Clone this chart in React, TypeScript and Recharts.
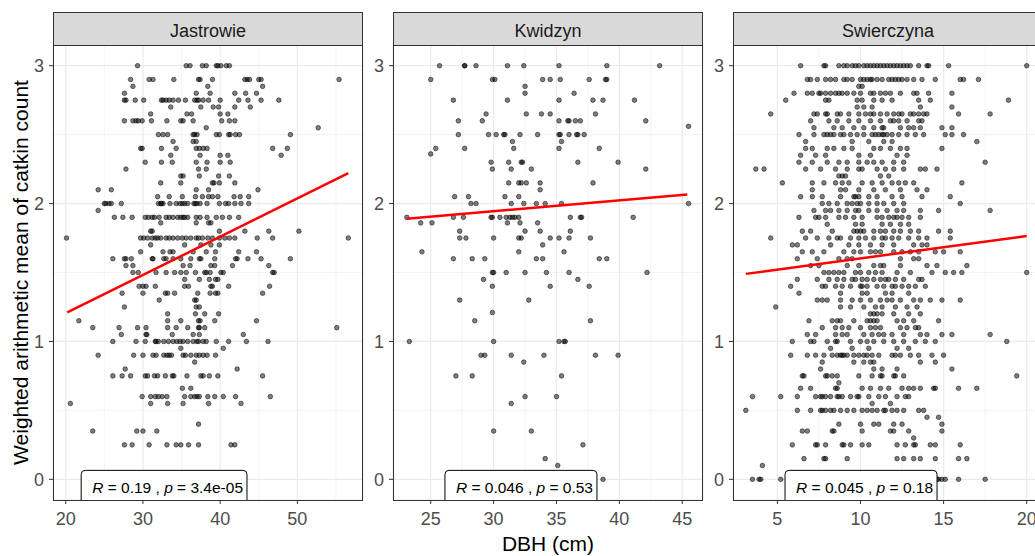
import React from "react";
import { ScatterChart, Scatter, XAxis, YAxis, CartesianGrid, ReferenceDot } from "recharts";

type Row = [number, number[]];

// each row: [weighted mean, DBH values of the trees at that level]
const jastrowieRows: Row[] = [
  [3.0, [29.3, 35.6, 36.1, 37.7, 38.2, 39.5, 39.7, 40.1, 40.8, 41.2]],
  [2.9, [28.4, 30.8, 31.3, 34.0, 37.2, 37.4, 39.0, 43.2, 43.5, 43.8, 45.0, 45.3, 55.4]],
  [2.85, [28.7, 38.4, 45.5]],
  [2.8, [27.6, 36.9, 38.7, 41.9, 43.3, 44.7]],
  [2.75, [27.6, 27.8, 29.0, 30.1, 32.4, 32.6, 33.0, 33.4, 33.9, 34.6, 35.5, 36.7, 37.0, 37.2, 37.8, 38.5, 40.0, 42.4, 43.6, 45.3, 47.6]],
  [2.7, [33.6, 37.5, 39.1, 39.8, 41.9, 43.9]],
  [2.65, [31.0, 35.7, 36.3, 40.0, 41.0]],
  [2.6, [27.6, 28.7, 29.1, 29.4, 29.9, 31.1, 33.1, 34.9, 35.2, 36.5, 40.2, 41.2, 41.9]],
  [2.55, [38.2, 52.7]],
  [2.5, [32.0, 32.6, 33.2, 36.5, 36.7, 37.0, 39.5, 39.9, 41.1, 41.3, 42.0, 42.5, 49.1]],
  [2.45, [33.9, 36.5, 36.9]],
  [2.4, [29.7, 29.9, 32.4, 34.3, 36.9, 37.3, 37.8, 38.3, 46.8, 48.7]],
  [2.35, [33.6, 37.4, 40.0, 41.0, 47.9]],
  [2.3, [30.3, 32.4, 33.8, 36.9, 38.3, 40.0, 41.3]],
  [2.25, [27.8, 37.2, 38.2]],
  [2.2, [34.9, 35.2, 37.3, 39.8, 41.2]],
  [2.15, [32.3, 34.9, 39.0, 39.2, 39.9, 41.9]],
  [2.1, [24.2, 25.9, 36.9, 38.5, 44.9]],
  [2.05, [31.9, 33.4, 35.1, 36.8, 37.7, 38.5, 39.0, 39.7, 41.8, 42.6, 43.7]],
  [2.0, [25.0, 25.2, 25.6, 25.9, 27.2, 32.0, 32.3, 32.4, 32.6, 33.5, 34.3, 34.8, 35.1, 35.4, 35.8, 36.6, 36.8, 37.0, 37.4, 38.3, 39.9, 40.7, 41.1, 41.9, 42.7, 43.7]],
  [1.95, [24.2]],
  [1.9, [26.3, 27.4, 28.6, 30.3, 30.7, 31.2, 31.5, 32.1, 33.0, 33.4, 33.9, 34.5, 34.9, 35.2, 35.4, 35.8, 36.9, 37.4, 38.3, 39.5, 40.3, 41.2, 42.4]],
  [1.86, [32.3, 36.9, 38.5, 38.8]],
  [1.8, [31.0, 31.2, 39.9, 43.2, 46.3, 50.2]],
  [1.75, [20.1, 29.7, 30.1, 30.6, 31.2, 31.6, 31.9, 32.3, 33.0, 33.4, 33.9, 34.5, 35.1, 35.6, 36.2, 36.9, 37.2, 37.7, 38.4, 39.0, 39.9, 40.6, 41.2, 41.9, 44.8, 46.8, 56.6]],
  [1.7, [31.0, 35.4, 37.5, 38.8, 39.9]],
  [1.65, [29.7, 32.6, 33.5, 33.9, 36.5, 38.2, 39.4, 42.4, 44.7]],
  [1.6, [26.1, 27.6, 27.8, 28.5, 31.2, 31.3, 32.7, 33.0, 33.9, 34.9, 36.2, 37.3, 37.5, 39.3, 42.0, 42.2, 43.6, 45.3, 49.1]],
  [1.55, [27.8, 28.7, 35.2, 36.1, 38.8, 39.3, 41.6, 46.3]],
  [1.5, [28.7, 29.4, 31.7, 33.0, 34.1, 34.9, 35.6, 36.8, 38.0, 38.2, 38.7, 40.1, 40.4, 46.8, 47.0]],
  [1.45, [35.4, 37.3, 38.6, 39.4, 39.7]],
  [1.4, [29.5, 30.0, 30.4, 31.6, 35.4, 35.9, 38.8, 39.0, 41.1, 46.4]],
  [1.35, [27.3, 30.0, 32.9, 33.2, 34.1, 37.1, 38.7, 39.4, 39.7, 45.5]],
  [1.3, [32.1, 36.7, 36.9]],
  [1.25, [27.6, 36.9, 37.3]],
  [1.2, [33.2, 36.8, 38.0, 39.8]],
  [1.15, [21.7, 33.2, 34.9, 37.2, 37.4, 39.3, 44.7]],
  [1.1, [23.5, 26.9, 29.3, 30.4, 33.2, 34.3, 35.8, 37.2, 37.3, 38.0, 55.1]],
  [1.05, [27.2, 30.4, 30.5, 33.8, 36.5, 37.3, 43.0]],
  [1.0, [26.1, 29.1, 30.3, 31.6, 31.7, 32.0, 32.7, 33.3, 33.9, 34.4, 34.8, 35.2, 35.8, 36.5, 37.0, 37.2, 37.8, 38.2, 39.5, 41.1, 43.4, 46.2]],
  [0.95, [34.9, 40.4]],
  [0.9, [24.2, 28.8, 30.0, 31.3, 31.7, 32.7, 33.1, 33.4, 33.7, 35.2, 35.5, 36.2, 36.9, 37.3, 37.8, 38.3, 39.4]],
  [0.85, [36.7]],
  [0.8, [27.7, 42.2]],
  [0.75, [26.1, 27.3, 28.4, 30.3, 30.6, 31.5, 31.9, 32.9, 33.8, 34.0, 35.7, 37.5, 37.8, 38.6, 39.7, 45.5]],
  [0.66, [35.1, 36.2]],
  [0.6, [29.9, 31.0, 31.6, 32.0, 32.5, 33.1, 35.4, 36.2, 36.7, 37.0, 37.3, 38.4, 39.3, 40.4, 42.0, 46.5]],
  [0.55, [20.6, 31.0, 33.2, 35.2, 38.5, 42.7]],
  [0.4, [37.2]],
  [0.35, [23.5, 29.2, 30.0, 31.8]],
  [0.25, [27.6, 28.6, 30.8, 33.1, 34.3, 34.9, 35.9, 37.2, 41.4, 41.9]],
];

const kwidzynRows: Row[] = [
  [3.0, [25.7, 27.7, 27.7, 28.6, 31.1, 32.4, 35.2, 39.0, 43.2]],
  [2.9, [25.0, 29.9, 30.1, 33.9, 34.5, 35.3, 37.6, 38.9, 39.0]],
  [2.85, [32.5]],
  [2.8, [32.5, 36.4]],
  [2.75, [26.8, 31.1, 35.2, 37.9, 38.7, 41.2]],
  [2.65, [29.4, 32.6, 33.8, 34.5, 38.1]],
  [2.6, [27.2, 29.1, 35.2, 35.9, 36.0, 36.5, 36.9, 42.1]],
  [2.56, [45.5]],
  [2.5, [27.2, 29.6, 30.2, 30.8, 30.9, 32.1, 33.5, 35.2, 35.3, 36.0, 36.6, 36.7, 37.2]],
  [2.45, [31.5, 35.4]],
  [2.4, [25.4, 27.7, 31.6, 35.2, 38.4]],
  [2.36, [25.0]],
  [2.3, [29.8, 31.2, 32.2, 32.3, 36.7, 39.9]],
  [2.25, [29.9, 31.4, 33.0, 42.1]],
  [2.15, [31.2, 32.0, 32.2, 32.6, 33.7, 37.9]],
  [2.1, [33.7]],
  [2.05, [26.9, 28.0, 30.9, 32.0]],
  [2.0, [28.2, 28.6, 31.4, 32.4, 33.4, 34.1, 35.4, 45.5]],
  [1.9, [23.1, 26.8, 27.6, 29.8, 29.9, 30.5, 31.0, 31.3, 31.5, 31.7, 32.0, 36.1, 36.9, 37.0, 41.1]],
  [1.86, [24.2, 25.1, 31.1, 32.1, 33.5]],
  [1.8, [27.3, 32.5, 33.7, 36.1]],
  [1.75, [27.3, 27.8, 30.0, 32.0, 32.2, 34.5, 35.2, 36.0, 37.7]],
  [1.7, [33.9]],
  [1.65, [24.3, 32.0, 35.6]],
  [1.6, [26.8, 28.3, 29.3, 33.4, 33.9, 38.4, 39.0]],
  [1.5, [29.9, 30.0, 31.0, 32.5, 34.2, 36.0, 42.2]],
  [1.45, [29.2, 36.7]],
  [1.4, [29.9, 34.5, 37.6]],
  [1.3, [27.3, 32.8]],
  [1.21, [29.9]],
  [1.15, [28.5, 37.7]],
  [1.0, [23.3, 30.0, 35.2, 35.6, 35.7]],
  [0.9, [29.0, 29.3, 31.4, 34.0, 38.1, 39.9]],
  [0.85, [32.4]],
  [0.75, [27.0, 28.3, 35.4]],
  [0.6, [32.5, 35.0]],
  [0.55, [31.4]],
  [0.35, [30.0, 33.0]],
  [0.25, [37.1]],
  [0.15, [34.1]],
  [0.1, [35.1]],
  [0.0, [38.7]],
];

const swierczynaRows: Row[] = [
  [3.0, [6.4, 7.8, 7.9, 8.7, 9.0, 9.2, 9.5, 9.7, 9.9, 10.2, 10.4, 10.6, 10.8, 11.0, 11.2, 11.4, 11.6, 11.8, 12.0, 12.2, 12.4, 12.6, 12.8, 13.0, 13.5, 14.0, 14.1, 15.3, 20.0]],
  [2.9, [6.8, 7.0, 7.4, 7.9, 8.2, 8.5, 9.0, 9.2, 9.5, 10.0, 10.2, 10.4, 10.6, 10.7, 11.0, 11.3, 11.7, 11.9, 12.1, 12.3, 12.5, 12.8, 13.2, 13.7, 14.5, 16.0, 16.2, 17.1]],
  [2.85, [9.9, 10.1]],
  [2.8, [6.0, 6.8, 7.1, 7.5, 7.6, 7.9, 8.2, 8.5, 8.7, 8.9, 9.2, 9.6, 10.0, 10.6, 10.8, 11.2, 11.5, 11.8, 12.4, 13.2, 13.4, 14.1, 15.5]],
  [2.75, [5.5, 7.9, 8.1, 9.8, 10.1, 10.8, 11.3, 11.9, 13.5, 14.2, 18.9]],
  [2.7, [9.8, 10.2, 10.7, 13.6, 15.5]],
  [2.65, [4.6, 7.2, 7.4, 7.9, 8.0, 8.6, 8.8, 9.3, 9.9, 10.3, 10.6, 10.8, 11.2, 11.6, 12.0, 12.3, 12.5, 13.0, 13.2, 13.5, 13.8, 14.0, 15.9, 17.8]],
  [2.6, [7.0, 8.1, 8.6, 9.3, 9.9, 10.6, 11.2, 11.8, 12.0, 12.3, 12.8, 13.5, 13.7]],
  [2.55, [7.2, 8.4, 8.9, 9.6, 10.2, 10.8, 11.3, 11.4, 12.4, 12.9, 13.2, 13.6, 14.9, 15.5]],
  [2.5, [6.3, 7.2, 7.8, 8.0, 8.2, 8.4, 8.8, 9.0, 9.4, 9.8, 10.2, 10.7, 10.9, 11.1, 11.3, 11.4, 11.6, 11.9, 12.3, 12.8, 13.3, 13.8, 15.1, 15.5, 16.2]],
  [2.45, [6.7, 9.5, 10.5, 11.4, 11.9, 17.0]],
  [2.4, [6.7, 7.1, 8.0, 8.4, 9.0, 9.5, 10.8, 11.2, 11.8, 12.4, 12.8, 14.9]],
  [2.35, [6.4, 7.3, 7.9, 9.9, 10.6, 12.2, 12.8]],
  [2.3, [6.3, 7.1, 8.0, 8.7, 9.2, 9.9, 10.4, 10.8, 11.3, 12.0, 12.6, 17.5]],
  [2.25, [3.7, 4.2, 6.7, 7.6, 8.5, 9.2, 9.9, 10.1, 11.0, 11.5, 12.0, 12.6, 13.6, 13.9, 14.6]],
  [2.2, [8.7, 8.9, 9.1, 11.2, 11.7]],
  [2.15, [5.3, 7.1, 7.8, 8.5, 8.9, 9.3, 10.1, 10.7, 11.3, 11.9, 12.3, 12.7, 13.2, 16.1]],
  [2.1, [7.1, 8.8, 9.1, 9.9, 10.8, 11.5, 12.4, 13.4, 14.0]],
  [2.05, [6.4, 7.1, 7.7, 8.8, 9.6, 9.7, 9.9, 10.5, 11.0, 11.9, 12.5, 13.7, 15.4]],
  [2.0, [7.7, 8.1, 8.6, 9.2, 9.5, 9.8, 10.0, 10.5, 11.0, 11.4, 12.0, 12.6, 16.0]],
  [1.95, [7.2, 7.9, 8.2, 8.7, 9.2, 9.7, 9.9, 10.5, 11.0, 11.6, 12.2, 12.6, 13.6, 14.7, 17.8]],
  [1.9, [6.3, 7.3, 7.5, 7.9, 8.7, 9.1, 9.6, 10.1, 11.0, 11.3, 11.7, 12.0, 12.2, 12.5, 12.9, 13.6]],
  [1.85, [8.0, 9.7, 10.1, 11.3, 11.8, 12.4, 12.9]],
  [1.8, [6.5, 7.0, 8.3, 9.6, 9.8, 10.0, 10.2, 10.8, 11.2, 11.5, 12.0, 12.4, 13.0, 13.5, 14.7, 15.4]],
  [1.75, [4.6, 6.7, 7.4, 8.1, 8.6, 8.8, 9.4, 9.9, 10.3, 10.8, 11.3, 11.5, 11.9, 12.3, 12.9, 13.5, 14.0, 15.4]],
  [1.7, [5.9, 6.2, 8.2, 9.3, 9.9, 10.6, 11.3, 12.0, 13.2, 13.7, 14.0]],
  [1.65, [6.5, 7.1, 7.8, 9.0, 9.6, 10.0, 10.6, 10.9, 11.2, 12.0, 12.5, 13.0, 13.5, 14.5, 15.0, 16.0]],
  [1.6, [6.2, 7.4, 8.7, 9.2, 9.5, 12.4, 13.2, 13.5]],
  [1.55, [7.0, 7.5, 9.2, 9.9, 10.8, 11.2, 11.4, 12.4, 14.0, 14.6, 16.4]],
  [1.5, [7.8, 8.1, 8.4, 8.7, 9.0, 9.7, 10.0, 10.5, 10.9, 11.3, 12.2, 13.0, 14.3, 15.1, 15.6, 16.1, 20.0]],
  [1.45, [6.2, 7.4, 8.1, 8.6, 9.0, 9.5, 9.7, 10.1, 10.4, 10.8, 11.2, 11.5, 11.7, 12.1, 12.6, 13.5, 13.7]],
  [1.4, [5.8, 7.7, 7.9, 8.5, 8.9, 9.4, 10.0, 10.1, 10.4, 11.0, 11.4, 11.9, 12.1, 12.5, 12.9, 13.3, 13.9]],
  [1.35, [6.3, 8.8, 10.1, 10.4, 11.5, 11.9, 12.9]],
  [1.3, [7.4, 7.7, 8.0, 8.8, 9.5, 10.0, 10.6, 11.2, 11.6, 11.9, 12.4, 13.2, 13.6, 14.2, 14.9, 16.0]],
  [1.25, [4.9, 8.8, 9.4, 10.2, 10.9, 11.3, 12.1, 12.8, 13.4]],
  [1.2, [10.6, 10.8, 11.0, 11.3, 12.0, 12.9, 13.6]],
  [1.15, [6.9, 8.3, 8.6, 8.8, 9.6, 10.4, 10.6, 10.8, 11.0, 12.2, 12.6, 13.2, 14.7]],
  [1.1, [7.7, 8.5, 8.9, 9.3, 10.0, 10.6, 10.9, 11.2, 12.4, 12.8, 13.3, 13.5]],
  [1.05, [6.8, 7.3, 8.5, 8.9, 9.2, 10.2, 10.7, 11.1, 11.4, 11.9, 12.6, 13.6, 14.0, 14.9, 15.5, 17.8]],
  [1.0, [5.9, 7.0, 7.2, 8.0, 8.5, 8.6, 9.4, 10.0, 10.4, 10.8, 11.4, 12.0, 12.6, 13.3, 13.9, 14.5, 18.8]],
  [0.95, [8.2, 9.5, 10.5, 12.2, 12.9]],
  [0.9, [5.8, 6.8, 7.3, 7.8, 8.3, 8.6, 8.8, 8.9, 9.0, 9.2, 9.6, 9.9, 10.2, 10.4, 10.7, 11.1, 11.9, 12.1, 12.4, 13.0, 13.5, 14.3, 15.0]],
  [0.85, [7.7, 9.6, 10.2, 10.6, 10.8, 13.6, 14.5]],
  [0.8, [7.6, 10.8, 11.3, 12.2, 15.5]],
  [0.75, [6.5, 6.6, 7.9, 8.0, 8.3, 8.6, 9.9, 10.7, 11.2, 11.3, 12.0, 12.1, 12.6, 19.4]],
  [0.7, [8.7]],
  [0.66, [6.4, 7.0, 8.5, 8.6, 10.1, 10.6, 11.2, 11.7, 12.5, 12.9, 13.2, 13.6, 14.4, 14.5, 15.9, 17.0]],
  [0.6, [3.5, 5.2, 6.2, 7.3, 7.6, 7.7, 7.9, 8.2, 8.6, 8.7, 8.9, 9.4, 9.8, 9.9, 10.5, 11.1, 11.5, 12.2, 12.7, 12.9]],
  [0.55, [10.7, 11.8]],
  [0.5, [3.1, 6.2, 7.0, 7.6, 7.7, 7.9, 8.2, 8.4, 8.8, 9.2, 9.6, 10.1, 10.4, 10.7, 11.0, 11.4, 11.5, 11.9, 12.2, 12.6, 13.5, 13.8]],
  [0.45, [14.0, 14.7]],
  [0.4, [8.7, 10.0, 10.8, 11.1, 12.0, 12.5, 14.9]],
  [0.35, [6.5, 6.8, 8.3, 8.4, 10.1, 11.8, 12.0, 12.9, 14.9]],
  [0.3, [13.2]],
  [0.25, [5.9, 7.3, 7.4, 7.9, 8.9, 9.0, 9.4, 10.1, 10.5, 12.2, 12.7, 13.2, 13.3, 14.2, 14.5, 16.0]],
  [0.15, [6.6, 7.8, 7.9, 9.2, 12.2, 12.6, 13.2, 13.6, 14.5, 15.9, 16.4]],
  [0.1, [4.1]],
  [0.0, [3.5, 3.9, 4.0, 5.2, 14.4, 14.6, 14.7, 14.9, 15.1, 15.9, 17.5]],
];

// ends of the lm fit lines
const jastrowieFit = [{ x: 20.2, y: 1.21 }, { x: 56.6, y: 2.22 }];
const kwidzynFit = [{ x: 23.1, y: 1.89 }, { x: 45.4, y: 2.065 }];
const swierczynaFit = [{ x: 3.1, y: 1.49 }, { x: 20.0, y: 1.765 }];

const yTicks = [0, 1, 2, 3];
const yMinor = [0.5, 1.5, 2.5];
const yDomain = [-0.15, 3.15];
const labelY = -0.062;

const panels = [
  { name: "Jastrowie", rows: jastrowieRows, fit: jastrowieFit, xTicks: [20, 30, 40, 50], xMinor: [25, 35, 45, 55], domain: [18.35, 58.5], r: "0.19", p: "3.4e-05", labelX: 22.0, left: 53 },
  { name: "Kwidzyn", rows: kwidzynRows, fit: kwidzynFit, xTicks: [25, 30, 35, 40, 45], xMinor: [27.5, 32.5, 37.5, 42.5], domain: [22.0, 46.65], r: "0.046", p: "0.53", labelX: 26.13, left: 393 },
  { name: "Swierczyna", rows: swierczynaRows, fit: swierczynaFit, xTicks: [5, 10, 15, 20], xMinor: [7.5, 12.5, 17.5], domain: [2.33, 20.98], r: "0.045", p: "0.18", labelX: 5.46, left: 733 },
];

const FONT = '"Liberation Sans", Arial, sans-serif';
const PANEL_W = 310;
const PLOT_TOP = 45;
const PLOT_H = 455;
const Y_AXIS_W = 45;
const TICK_FONT = 18;

const toPoints = (rows: Row[]) => rows.flatMap(([y, xs]) => xs.map((x) => ({ x, y })));

function textWidth(text: string, size: number) {
  try {
    const ctx = document.createElement("canvas").getContext("2d")!;
    ctx.font = `${size}px ${FONT}`;
    return ctx.measureText(text).width;
  } catch {
    return text.length * size * 0.5;
  }
}

const Dot = (props: any) => (
  <circle cx={props.cx} cy={props.cy} r={2.3} fill="#000" fillOpacity={0.5} stroke="#000" strokeOpacity={0.5} strokeWidth={1} />
);

function CorLabel({ cx, cy, r, p }: { cx: number; cy: number; r: string; p: string }) {
  const size = 15.5;
  const w = textWidth(`R = ${r} , p = ${p}`, size) + 15;
  const top = cy - 17.5;
  // the box runs off the panel bottom, so only its upper corners are drawn
  const bottom = cy + ((labelY - yDomain[0]) * PLOT_H) / (yDomain[1] - yDomain[0]);
  const rad = 4;
  const d = `M${cx},${bottom} L${cx},${top + rad} Q${cx},${top} ${cx + rad},${top} L${cx + w - rad},${top} Q${cx + w},${top} ${cx + w},${top + rad} L${cx + w},${bottom}`;
  return (
    <g>
      <path d={d} fill="#fff" stroke="#000" strokeWidth={1} />
      <text x={cx + 11} y={cy + 5.5} fontSize={size} fill="#000">
        <tspan fontStyle="italic">R</tspan>
        <tspan>{` = ${r} , `}</tspan>
        <tspan fontStyle="italic">p</tspan>
        <tspan>{` = ${p}`}</tspan>
      </text>
    </g>
  );
}

function Panel({ cfg }: { cfg: (typeof panels)[number] }) {
  const points = toPoints(cfg.rows);
  return (
    <>
      <div style={{ position: "absolute", left: cfg.left - Y_AXIS_W, top: 0 }}>
        <ScatterChart width={Y_AXIS_W + PANEL_W + 10} height={556} margin={{ top: PLOT_TOP, right: 10, bottom: 0, left: 0 }}>
          <CartesianGrid verticalValues={cfg.xMinor} horizontalValues={yMinor} stroke="#ebebeb" strokeWidth={0.6} />
          <CartesianGrid stroke="#ebebeb" strokeWidth={1.2} />
          <XAxis
            type="number"
            dataKey="x"
            domain={cfg.domain}
            ticks={cfg.xTicks}
            interval={0}
            allowDataOverflow
            axisLine={false}
            tickLine={{ stroke: "#333" }}
            tickSize={4}
            tickMargin={8}
            height={556 - PLOT_TOP - PLOT_H}
            tick={{ fill: "#4d4d4d", fontSize: TICK_FONT }}
          />
          <YAxis
            type="number"
            dataKey="y"
            domain={yDomain}
            ticks={yTicks}
            interval={0}
            allowDataOverflow
            axisLine={false}
            tickLine={{ stroke: "#333" }}
            tickSize={4}
            tickMargin={5}
            width={Y_AXIS_W}
            tick={{ fill: "#4d4d4d", fontSize: TICK_FONT }}
          />
          <Scatter data={points} shape={Dot} isAnimationActive={false} />
          <Scatter
            data={cfg.fit}
            fill="#ff0000"
            line={{ stroke: "#ff0000", strokeWidth: 2.5 }}
            shape={() => <g />}
            isAnimationActive={false}
          />
          <ReferenceDot
            x={cfg.labelX}
            y={labelY}
            ifOverflow="hidden"
            zIndex={2000}
            shape={(s: any) => <CorLabel cx={s.cx} cy={s.cy} r={cfg.r} p={cfg.p} />}
          />
        </ScatterChart>
      </div>
      <div
        style={{
          position: "absolute",
          left: cfg.left,
          top: 12,
          width: PANEL_W,
          height: 34,
          boxSizing: "border-box",
          border: "1px solid #333",
          background: "#d9d9d9",
          color: "#1a1a1a",
          fontSize: TICK_FONT,
          lineHeight: "32px",
          paddingTop: 2,
          textAlign: "center",
        }}
      >
        {cfg.name}
      </div>
      <div
        style={{
          position: "absolute",
          left: cfg.left,
          top: PLOT_TOP,
          width: PANEL_W,
          height: PLOT_H + 1,
          boxSizing: "border-box",
          border: "1px solid #333",
          pointerEvents: "none",
        }}
      />
    </>
  );
}

export default function App() {
  return (
    <div
      style={{
        position: "absolute",
        left: 0,
        top: 0,
        width: 1035,
        height: 556,
        overflow: "hidden",
        background: "#fff",
        fontFamily: FONT,
      }}
    >
      {panels.map((cfg) => (
        <Panel key={cfg.name} cfg={cfg} />
      ))}
      <svg width={1035} height={556} style={{ position: "absolute", left: 0, top: 0, pointerEvents: "none" }}>
        <text x={548} y={551} textAnchor="middle" fontSize={21} fill="#000">
          DBH (cm)
        </text>
        <text transform="translate(28,272.5) rotate(-90)" textAnchor="middle" fontSize={21} fill="#000">
          Weighted arithmetic mean of catkin count
        </text>
      </svg>
    </div>
  );
}
